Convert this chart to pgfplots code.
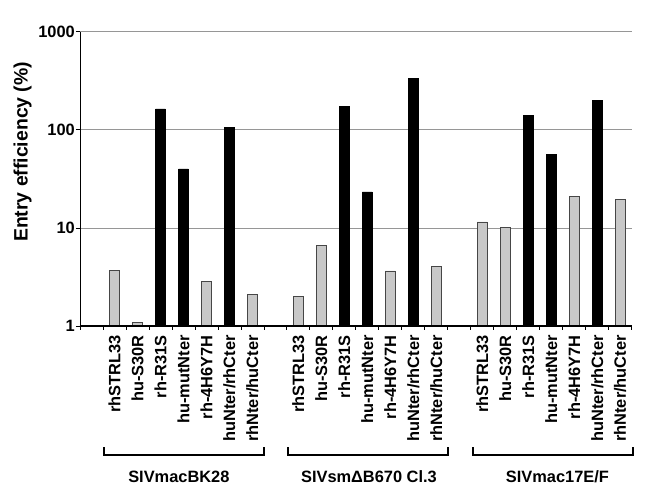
\documentclass[border=0pt]{standalone}
\usepackage{fontspec}
\setmainfont{Liberation Sans}
\usepackage{pgfplots}
\pgfplotsset{compat=1.18}
\definecolor{barg}{RGB}{200,200,200}
\definecolor{edg}{RGB}{70,70,70}
\definecolor{gridc}{RGB}{150,150,150}
\newcommand{\lf}{\bfseries\fontsize{16.4bp}{19bp}\selectfont}
\begin{document}
\begin{tikzpicture}
\useasboundingbox (-80bp,-169bp) rectangle (579bp,326bp);
\begin{axis}[
  at={(0,0)}, anchor=south west,
  scale only axis, width=551.7bp, height=294.3bp,
  ymode=log, ymin=1, ymax=1000,
  xmin=-0.5, xmax=23.5,
  clip=false,
  axis x line=bottom, axis y line=left,
  x axis line style={-, line width=1.8bp, black},
  y axis line style={-, line width=0.9bp, black},
  /pgf/number format/assume math mode=true,
  ytick={1,10,100,1000}, yticklabels={1,10,100,1000},
  yticklabel style={font=\lf, inner sep=1bp},
  yminorticks=false,
  ymajorgrids, grid style={gridc, line width=0.7bp},
  tick align=outside, major tick length=4bp,
  tick style={black, line width=0.8bp},
  xtick={-0.5,0.5,...,23.5}, xticklabels={},
  extra x ticks={1,2,3,4,5,6,7,9,10,11,12,13,14,15,17,18,19,20,21,22,23},
  extra x tick labels={rhSTRL33,hu-S30R,rh-R31S,hu-mutNter,rh-4H6Y7H,huNter/rhCter,rhNter/huCter,rhSTRL33,hu-S30R,rh-R31S,hu-mutNter,rh-4H6Y7H,huNter/rhCter,rhNter/huCter,rhSTRL33,hu-S30R,rh-R31S,hu-mutNter,rh-4H6Y7H,huNter/rhCter,rhNter/huCter},
  extra x tick style={major tick length=0pt, xticklabel style={rotate=90, anchor=east, font=\lf, inner sep=0pt, xshift=-9bp}},
  ylabel={Entry efficiency (\%)},
  ylabel style={at={(axis description cs:0,0.5)}, anchor=center, xshift=27bp, yshift=57.5bp, font=\bfseries\fontsize{19.4bp}{22bp}\selectfont},
]
\addplot[ybar, bar width=9.7bp, bar shift=0pt, fill=barg, draw=edg, line width=0.7bp] coordinates {
(1,3.67) (2,1.08) (5,2.83) (7,2.09)
(9,2.02) (10,6.6) (13,3.64) (15,4.06)
(17,11.5) (18,10.2) (21,20.9) (23,19.4)};
\addplot[ybar, bar width=9.7bp, bar shift=0pt, fill=black, draw=black, line width=0.5bp] coordinates {
(3,163) (4,40) (6,106)
(11,172) (12,23.3) (14,336)
(19,140) (20,56) (22,198)};
\draw[line width=1.8bp, black] (axis cs:-0.5,1) -- (axis cs:23.5,1);
\draw[line width=1.8bp, black] ([yshift=-121bp]axis cs:0.55,1) -- ([yshift=-129bp]axis cs:0.55,1) -- ([yshift=-129bp]axis cs:7.5,1) -- ([yshift=-121bp]axis cs:7.5,1);
\draw[line width=1.8bp, black] ([yshift=-121bp]axis cs:8.55,1) -- ([yshift=-129bp]axis cs:8.55,1) -- ([yshift=-129bp]axis cs:15.5,1) -- ([yshift=-121bp]axis cs:15.5,1);
\draw[line width=1.8bp, black] ([yshift=-121bp]axis cs:16.58,1) -- ([yshift=-129bp]axis cs:16.58,1) -- ([yshift=-129bp]axis cs:23.55,1) -- ([yshift=-121bp]axis cs:23.55,1);
\node[font=\lf] at ([yshift=-151bp]axis cs:3.8,1) {SIVmacBK28};
\node[font=\lf] at ([yshift=-151bp]axis cs:12.07,1) {SIVsmΔB670 Cl.3};
\node[font=\lf] at ([yshift=-151bp]axis cs:20.27,1) {SIVmac17E/F};
\end{axis}
\end{tikzpicture}
\end{document}
